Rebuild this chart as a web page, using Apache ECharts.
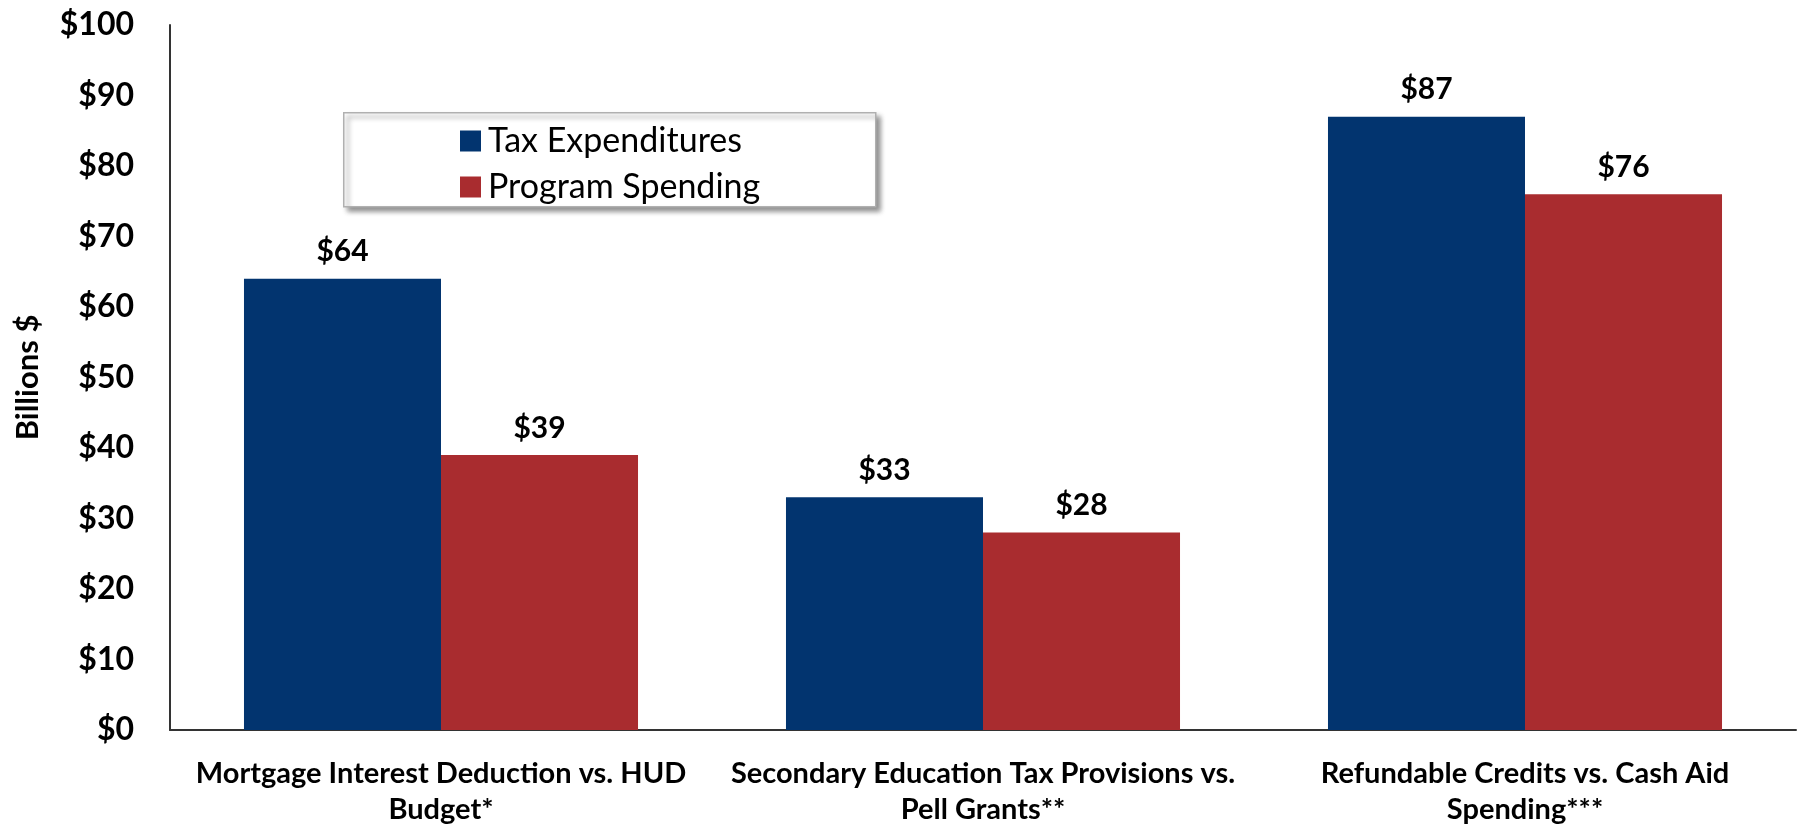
<!DOCTYPE html>
<html>
<head>
<meta charset="utf-8">
<style>
  html, body { margin: 0; padding: 0; background: #fff; }
  #chart { width: 1803px; height: 826px; }
</style>
<script src="https://cdn.jsdelivr.net/npm/echarts@6/dist/echarts.min.js"></script>
</head>
<body>
<div id="chart"></div>
<script>
// Tax expenditures compared with direct program spending (billions of dollars)
const categories = [
  'Mortgage Interest Deduction vs. HUD\nBudget*',
  'Secondary Education Tax Provisions vs.\nPell Grants**',
  'Refundable Credits vs. Cash Aid\nSpending***'
];
const taxExpenditures = [64, 33, 87];
const programSpending = [39, 28, 76];
const seriesNames = ['Tax Expenditures', 'Program Spending'];
const yTicks = { min: 0, max: 100, interval: 10 };

const FONT = 'Lato';
const chart = echarts.init(document.getElementById('chart'));

const valueLabel = {
  show: true,
  position: 'top',
  distance: 12,
  formatter: p => '$' + Math.round(p.value),
  fontFamily: FONT,
  fontWeight: 'bold',
  fontSize: 30,
  color: '#000'
};

chart.setOption({
  animation: false,
  backgroundColor: '#fff',
  grid: {
    left: 170, right: 7, top: 25, bottom: 96,
    containLabel: false,
    outerBoundsMode: 'none'
  },
  graphic: [{
    type: 'rect',
    left: 343,
    top: 112,
    shape: { width: 532, height: 94 },
    style: {
      fill: '#fff',
      stroke: '#b0b0b0',
      lineWidth: 1.5,
      shadowBlur: 5,
      shadowOffsetX: 4,
      shadowOffsetY: 4,
      shadowColor: 'rgba(0,0,0,0.45)'
    },
    z: 5
  }],
  legend: {
    orient: 'vertical',
    left: 455,
    top: 119,
    itemWidth: 21,
    itemHeight: 21,
    itemGap: 12,
    icon: 'rect',
    z: 10,
    textStyle: {
      fontFamily: FONT,
      fontSize: 34,
      lineHeight: 34,
      color: '#000',
      padding: [0, 0, 0, 2]
    },
    data: seriesNames
  },
  xAxis: {
    type: 'category',
    data: categories,
    axisLine: { lineStyle: { color: '#333', width: 2 } },
    axisTick: { show: false },
    axisLabel: {
      interval: 0,
      margin: 26,
      fontFamily: FONT,
      fontWeight: 'bold',
      fontSize: 29,
      lineHeight: 36,
      color: '#000'
    }
  },
  yAxis: {
    type: 'value',
    min: yTicks.min,
    max: yTicks.max,
    interval: yTicks.interval,
    name: 'Billions $',
    nameLocation: 'middle',
    nameGap: 127,
    nameRotate: 90,
    nameTextStyle: {
      fontFamily: FONT,
      fontWeight: 'bold',
      fontSize: 31,
      color: '#000'
    },
    axisLine: { show: true, lineStyle: { color: '#333', width: 2 } },
    axisTick: { show: false },
    splitLine: { show: false },
    axisLabel: {
      margin: 36,
      formatter: v => '$' + v,
      fontFamily: FONT,
      fontWeight: 'bold',
      fontSize: 32,
      color: '#000'
    }
  },
  series: [
    {
      name: seriesNames[0],
      type: 'bar',
      data: taxExpenditures,
      barGap: '0%',
      barCategoryGap: '27.3%',
      itemStyle: { color: '#02346F' },
      label: valueLabel
    },
    {
      name: seriesNames[1],
      type: 'bar',
      data: programSpending,
      itemStyle: { color: '#A92C2F' },
      label: valueLabel
    }
  ]
});
</script>
</body>
</html>
